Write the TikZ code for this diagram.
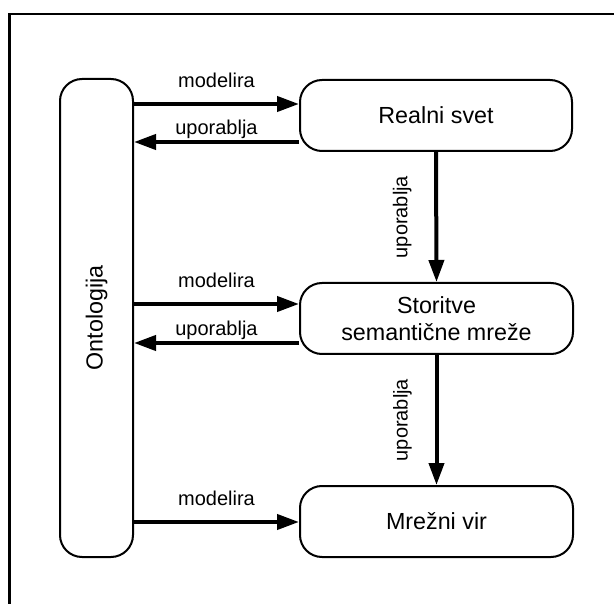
\documentclass[tikz,border=0pt]{standalone}
\usepackage{fontspec}
\setmainfont{Liberation Sans}
\usetikzlibrary{arrows.meta,calc}
\begin{document}
\begin{tikzpicture}[x=1pt,y=-1pt,
  box/.style={draw,line width=2pt,rounded corners=22pt,inner sep=0pt,
    font=\fontsize{23.3}{27.6}\selectfont,align=center},
  arr/.style={line width=4pt,-{Triangle[length=22pt,width=15pt]}},
  lbl/.style={font=\fontsize{20}{22}\selectfont,inner sep=0pt}]
\useasboundingbox (0,0) rectangle (614,604);
\draw[line width=2.7pt] (614,14) -- (9.5,14) -- (9.5,604);
\node[box,minimum width=73pt,minimum height=478pt] (onto) at (96.5,318) {};
\node[font=\fontsize{23.3}{27}\selectfont,rotate=90,inner sep=0pt] (ontotxt) at (onto.center) {Ontologija};
\node[box,minimum width=272pt,minimum height=71pt] (rs) at (436,115.5) {Realni svet};
\node[box,minimum width=273pt,minimum height=71pt] (st) at (436.5,318.5) {Storitve\\semantične mreže};
\node[box,minimum width=273pt,minimum height=71pt] (mv) at (436.5,521.5) {Mrežni vir};
% horizontal arrows
\draw[arr] (onto.east |- 0,104) -- (rs.west |- 0,104)
  node[lbl,midway,anchor=base,yshift=16.6pt] {modelira};
\draw[arr] (rs.west |- 0,142) -- (onto.east |- 0,142)
  node[lbl,midway,anchor=base,yshift=7.7pt] {uporablja};
\draw[arr] (onto.east |- 0,304) -- (st.west |- 0,304)
  node[lbl,midway,anchor=base,yshift=16.6pt] {modelira};
\draw[arr] (st.west |- 0,343) -- (onto.east |- 0,343)
  node[lbl,midway,anchor=base,yshift=7.7pt] {uporablja};
\draw[arr] (onto.east |- 0,522) -- (mv.west |- 0,522)
  node[lbl,midway,anchor=base,yshift=16.6pt] {modelira};
% vertical arrows
\draw[arr] (rs.south) -- (st.north);
\node[lbl,rotate=90,anchor=base] (l1) at ($(rs.south)!0.5!(st.north)+(-29,0)$) {uporablja};
\draw[arr] (st.south) -- (mv.north);
\node[lbl,rotate=90,anchor=base] (l2) at ($(st.south)!0.5!(mv.north)+(-29,0)$) {uporablja};
\end{tikzpicture}
\end{document}
